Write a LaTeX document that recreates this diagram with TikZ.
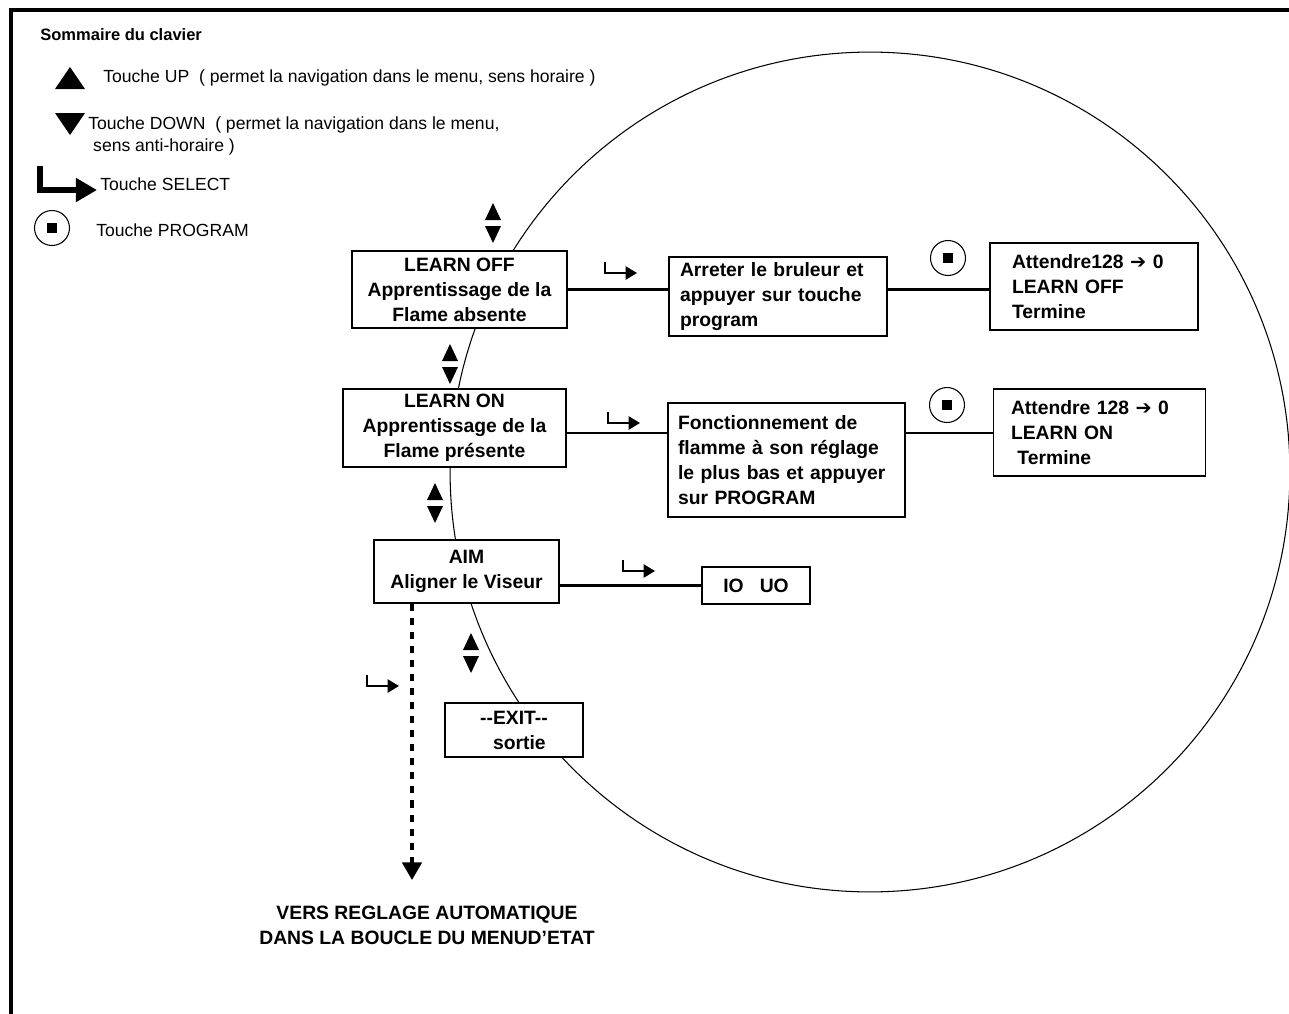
\documentclass[tikz,border=0pt]{standalone}
\usepackage{fontspec}
\setmainfont{Liberation Sans}
\newfontfamily\symfont{DejaVu Sans}
\usetikzlibrary{calc}
\usetikzlibrary{arrows.meta}

\begin{document}
\begin{tikzpicture}[x=0.02cm, y=-0.02cm,
  every node/.style={inner sep=0pt},
  menubox/.style={draw, fill=white, line width=0.8pt, align=center,
    font=\fontsize{11}{14.2}\selectfont\bfseries},
  notebox/.style={menubox, align=left},
  legend/.style={font=\fontsize{10}{12.5}\selectfont, align=left},
  link/.style={line width=1.3pt},
  selkey/.style={line width=1.2pt, -{Triangle[length=6.5pt,width=7.5pt]}}]
\useasboundingbox (0,0) rectangle (1289,1014);

% cadre
\draw[line width=2.3pt] (11,1014) -- (11,10) -- (1289,10);

% menu circulaire
\draw[line width=.6pt] (870,472) circle (8.4cm);

% sommaire du clavier
\node[anchor=west, font=\fontsize{9.4}{12}\selectfont\bfseries] (title) at (40,35) {Sommaire du clavier};
\fill (55,89) -- (85,89) -- (70,67) -- cycle;
\node[legend, anchor=west] (kup) at (103,78) {Touche UP\ \ ( permet la navigation dans le menu, sens horaire )};
\fill (55,113) -- (85,113) -- (70,135) -- cycle;
\node[legend, anchor=north west] (kdown) at (88,116) {Touche DOWN\ \ ( permet la navigation dans le menu,\\\ sens anti-horaire )};
\draw[line width=3.4pt, -{Triangle[length=12pt,width=13pt]}] (40,166) |- (97,190);
\node[legend, anchor=west] (ksel) at (100,184) {Touche SELECT};
\draw[line width=.6pt] (52,228) circle (0.35cm);
\fill (47,223) rectangle (57,233);
\node[legend, anchor=west] (kprog) at (96,230) {Touche PROGRAM};

% menus
\node[menubox, minimum width=4.3cm, minimum height=1.54cm] (loff) at (459.5,289.5)
  {LEARN OFF\\Apprentissage de la\\Flame absente};
\node[notebox, text width=3.92cm, inner xsep=0.22cm, minimum height=1.58cm] (stop) at (778,296.5)
  {Arreter le bruleur et\\appuyer sur touche\\program};
\node[notebox, text width=3.28cm, inner xsep=0.44cm, minimum height=1.74cm] (doneoff) at (1094,286.5)
  {Attendre128 {\symfont ➔} 0\\LEARN OFF\\Termine};

\node[menubox, minimum width=4.46cm, minimum height=1.56cm] (lon) at (454.5,428)
  {LEARN ON\\Apprentissage de la\\Flame présente};
\node[notebox, text width=4.34cm, inner xsep=0.2cm, minimum height=2.28cm] (low) at (786.5,460)
  {Fonctionnement de\\flamme à son réglage\\le plus bas et appuyer\\sur PROGRAM};
\node[notebox, text width=3.54cm, inner xsep=0.35cm, minimum height=1.74cm] (doneon) at (1099.5,432.5)
  {Attendre 128 {\symfont ➔} 0\\LEARN ON\\\ Termine};

\node[menubox, minimum width=3.7cm, minimum height=1.26cm] (aim) at (466.5,571.5)
  {AIM\\Aligner le Viseur};
\node[menubox, minimum width=2.16cm, minimum height=0.74cm] (iouo) at (756,585.5)
  {IO\ \ \ UO};
\node[menubox, minimum width=2.76cm, minimum height=1.08cm] (exit) at (514,730)
  {-{}-EXIT-{}-\\\ \ sortie};

% liaisons
\coordinate (onlink) at ($(lon.east)+(0,5)$);
\draw[link] (loff.east) -- (loff.east -| stop.west);
\draw[link] (loff.east -| stop.east) -- (loff.east -| doneoff.west);
\draw[link] (onlink) -- (onlink -| low.west);
\draw[link] (onlink -| low.east) -- (onlink -| doneon.west);
\draw[link] (iouo.west -| aim.east) -- (iouo.west);

% vers reglage automatique
\coordinate (vers) at (412,880);
\draw[line width=2pt, dash pattern=on 4pt off 4pt, -{Triangle[length=10pt,width=11pt]}]
  (aim.south -| vers) -- (vers);
\node[font=\fontsize{11}{14.2}\selectfont\bfseries, align=center] (verstext) at (427,925)
  {VERS REGLAGE AUTOMATIQUE\\DANS LA BOUCLE DU MENUD’ETAT};

% touches UP/DOWN
\foreach \x/\y in {493/223, 450/364, 435/503, 471/653} {
  \fill (\x-8,\y-3) -- ++(16,0) -- ++(-8,-17) -- cycle;
  \fill (\x-8,\y+3) -- ++(16,0) -- ++(-8,17) -- cycle;
}

% touches SELECT
\foreach \x/\y in {605/262, 608/412, 623/560, 367/675}
  \draw[selkey] (\x,\y) |- ++(32,11);

% touches PROGRAM
\foreach \x/\y in {948/258, 947/405} {
  \draw[line width=.6pt] (\x,\y) circle (0.35cm);
  \fill (\x-5,\y-5) rectangle ++(10,10);
}
\end{tikzpicture}
\end{document}
